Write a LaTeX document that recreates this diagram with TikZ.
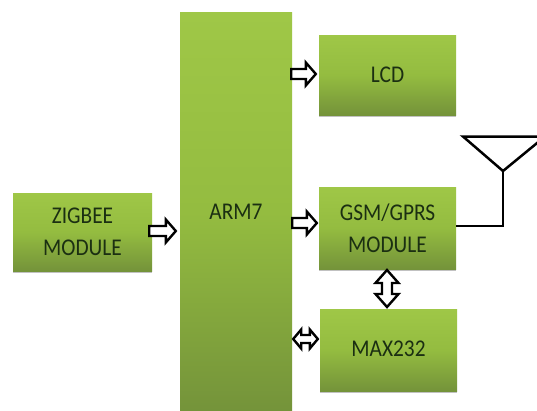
\documentclass[tikz,border=0pt]{standalone}
\usepackage{fontspec}
\setmainfont[FakeStretch=0.89]{Carlito}
\usetikzlibrary{calc,shadows}
\definecolor{gtop}{HTML}{9FC747}
\definecolor{gmid}{HTML}{94BC40}
\definecolor{gbot}{HTML}{74933A}
\definecolor{ink}{HTML}{1B2F12}
\tikzset{
  box/.style={minimum width=#1, inner sep=0pt, top color=gtop, bottom color=gbot, middle color=gmid,
    draw=none, text=ink, font=\fontsize{24}{32}\selectfont, align=center,
    drop shadow={shadow xshift=0pt, shadow yshift=-2pt, fill=black!60, opacity=.4}},
  wire/.style={draw=black, line width=2.5pt, line join=miter},
  armlabel/.style={text=ink, font=\fontsize{24}{32}\selectfont, inner sep=0pt},
  blockone/.style={draw=black, fill=white, line width=2.4pt, line join=miter, miter limit=3, to path={
    -- ($(\tikztostart)!5pt!90:(\tikztotarget)$)
    -- ($(\tikztotarget)!10pt!(\tikztostart)!5pt!90:(\tikztotarget)$)
    -- ($(\tikztotarget)!10pt!(\tikztostart)!11.5pt!90:(\tikztotarget)$)
    -- (\tikztotarget)
    -- ($(\tikztotarget)!10pt!(\tikztostart)!-11.5pt!90:(\tikztotarget)$)
    -- ($(\tikztotarget)!10pt!(\tikztostart)!-5pt!90:(\tikztotarget)$)
    -- ($(\tikztostart)!-5pt!90:(\tikztotarget)$)
    -- cycle}},
  blocktwo/.style n args={3}{draw=black, fill=white, line width=2.4pt, line join=miter, miter limit=3, to path={
    -- ($(\tikztostart)!#1pt!(\tikztotarget)!#2pt!90:(\tikztotarget)$)
    -- ($(\tikztostart)!#1pt!(\tikztotarget)!#3pt!90:(\tikztotarget)$)
    -- ($(\tikztotarget)!#1pt!(\tikztostart)!#3pt!-90:(\tikztostart)$)
    -- ($(\tikztotarget)!#1pt!(\tikztostart)!#2pt!-90:(\tikztostart)$)
    -- (\tikztotarget)
    -- ($(\tikztotarget)!#1pt!(\tikztostart)!#2pt!90:(\tikztostart)$)
    -- ($(\tikztotarget)!#1pt!(\tikztostart)!#3pt!90:(\tikztostart)$)
    -- ($(\tikztostart)!#1pt!(\tikztotarget)!-#3pt!90:(\tikztotarget)$)
    -- ($(\tikztostart)!#1pt!(\tikztotarget)!-#2pt!90:(\tikztotarget)$)
    -- cycle}}
}
\begin{document}
\begin{tikzpicture}[x=1pt,y=-1pt]
\useasboundingbox (0,0) rectangle (537,410);
\clip (0,0) rectangle (537,410);
\fill[white] (0,0) rectangle (537,410);
\node[box=112pt, minimum height=400pt] (arm) at (236,212) {};
\node[armlabel] (armtext) at (236,212) {ARM7};
\node[box=139pt, minimum height=78pt] (zigbee) at (82.5,232) {ZIGBEE\\MODULE};
\node[box=137pt, minimum height=80pt] (lcd) at (387.5,75) {LCD};
\node[box=137pt, minimum height=82pt] (gsm) at (387.5,228) {GSM/GPRS\\MODULE};
\node[box=137pt, minimum height=82pt] (max) at (388.5,350) {\raisebox{2pt}{MAX232}};
\coordinate (t1) at (463,136.5);
\coordinate (t2) at (545,136.5);
\coordinate (t3) at (503,171);
\coordinate (corner) at (503,226);
\coordinate (gsmout) at (gsm.east |- corner);
\draw[wire] (t1) -- (t2) -- (t3) -- cycle;
\draw[wire] (t3) -- (corner) -- (gsmout);
\coordinate (za) at ($(zigbee.east |- 0,231)+(-3,0)$);
\coordinate (zb) at ($(arm.west |- 0,231)+(-4,0)$);
\draw[blockone] (za) to (zb);
\coordinate (la) at ($(arm.east |- 0,74)+(-1,0)$);
\coordinate (lb) at ($(lcd.west |- 0,74)+(-3,0)$);
\draw[blockone] (la) to (lb);
\coordinate (ga) at ($(arm.east |- 0,223)+(0,0)$);
\coordinate (gb) at ($(gsm.west |- 0,223)+(-2,0)$);
\draw[blockone] (ga) to (gb);
\coordinate (ma) at ($(arm.east |- 0,339)+(1,0)$);
\coordinate (mb) at ($(max.west |- 0,339)+(-2,0)$);
\draw[blocktwo={8}{9.5}{4}] (ma) to (mb);
\coordinate (gc) at (387,270);
\coordinate (gd) at (387,307);
\draw[blocktwo={13}{11.5}{5}] (gc) to (gd);
\end{tikzpicture}
\end{document}
